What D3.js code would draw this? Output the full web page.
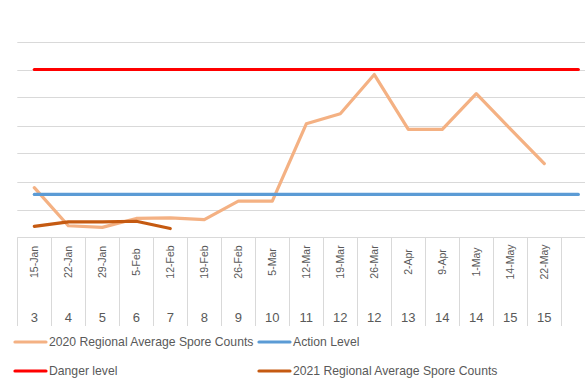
<!DOCTYPE html>
<html lang="en">
<head>
<meta charset="UTF-8">
<title>Regional spore counts</title>
<script src="https://cdn.jsdelivr.net/npm/d3@7"></script>
<style>
  body { margin: 0; padding: 0; overflow: hidden; background: #fff; }
  svg { display: block; }
  text { font-family: "Liberation Sans", Arial, sans-serif; fill: #595959; }
</style>
</head>
<body>
<svg id="chart" width="585" height="390"></svg>
<script>
// categories (last one is an empty slot, as in the original sheet)
var dates = ["15-Jan", "22-Jan", "29-Jan", "5-Feb", "12-Feb", "19-Feb", "26-Feb", "5-Mar",
  "12-Mar", "19-Mar", "26-Mar", "2-Apr", "9-Apr", "1-May", "14-May", "22-May", ""];
var weeks = ["3", "4", "5", "6", "7", "8", "9", "10", "11", "12", "12", "13", "14", "14", "15", "15", ""];

// series values
var spores2020 = [89, 21, 18, 34, 35, 32, 65, 65, 203, 221, 291, 193, 193, 257, 194, 132];
var spores2021 = [20, 28, 28, 29, 16];
var actionLevel = [77, 77, 77, 77, 77, 77, 77, 77, 77, 77, 77, 77, 77, 77, 77, 77, 77];
var dangerLevel = [300, 300, 300, 300, 300, 300, 300, 300, 300, 300, 300, 300, 300, 300, 300, 300, 300];

var series = [
  { name: "2020 Regional Average Spore Counts", values: spores2020, color: "#F4B183" },
  { name: "Action Level", values: actionLevel, color: "#5B9BD5" },
  { name: "Danger level", values: dangerLevel, color: "#FF0000" },
  { name: "2021 Regional Average Spore Counts", values: spores2021, color: "#C55A11" }
];

var svg = d3.select("#chart");

var x = d3.scaleBand().domain(d3.range(dates.length)).range([17.3, 595.3]);
var y = d3.scaleLinear().domain([0, 350]).range([237.5, 41.5]);

// gridlines
svg.append("g")
  .selectAll("line")
  .data(y.ticks(7).filter(d => d > 0))
  .join("line")
  .attr("x1", 17.3).attr("x2", 595.3)
  .attr("y1", d => Math.round(y(d)) + 0.5).attr("y2", d => Math.round(y(d)) + 0.5)
  .attr("stroke", "#d9d9d9").attr("stroke-width", 1);

// category axis box
var axisG = svg.append("g");
axisG.append("line")
  .attr("x1", 17.3).attr("x2", 595.3)
  .attr("y1", 237.5).attr("y2", 237.5)
  .attr("stroke", "#d9d9d9");
axisG.selectAll("line.div")
  .data(d3.range(dates.length + 1))
  .join("line")
  .attr("class", "div")
  .attr("x1", d => Math.round(17.3 + d * x.step()) + 0.5)
  .attr("x2", d => Math.round(17.3 + d * x.step()) + 0.5)
  .attr("y1", 237.5).attr("y2", 326)
  .attr("stroke", "#d9d9d9");

axisG.selectAll("text.date")
  .data(dates)
  .join("text")
  .attr("class", "date")
  .attr("transform", (d, i) => "translate(" + (x(i) + x.bandwidth() / 2 + 0.5) + ",262) rotate(-90)")
  .attr("text-anchor", "middle")
  .attr("dy", "0.35em")
  .attr("font-size", "10.5px")
  .text(d => d);

axisG.selectAll("text.week")
  .data(weeks)
  .join("text")
  .attr("class", "week")
  .attr("x", (d, i) => x(i) + x.bandwidth() / 2)
  .attr("y", 317)
  .attr("text-anchor", "middle")
  .attr("dy", "0.35em")
  .attr("font-size", "13px")
  .text(d => d);

// lines
var line = d3.line()
  .x((d, i) => x(i) + x.bandwidth() / 2)
  .y(d => y(d));

svg.append("g")
  .selectAll("path")
  .data(series)
  .join("path")
  .attr("d", d => line(d.values))
  .attr("fill", "none")
  .attr("stroke", d => d.color)
  .attr("stroke-width", 3.2)
  .attr("stroke-linejoin", "round")
  .attr("stroke-linecap", "round");

// legend, two columns
var legendPos = [[15, 342], [259, 342], [15, 371], [259, 371]];
var legend = svg.append("g")
  .selectAll("g")
  .data(series)
  .join("g")
  .attr("transform", (d, i) => "translate(" + legendPos[i][0] + "," + legendPos[i][1] + ")");
legend.append("line")
  .attr("x1", 0).attr("x2", 31)
  .attr("stroke", d => d.color)
  .attr("stroke-width", 3.2)
  .attr("stroke-linecap", "round");
legend.append("text")
  .attr("x", 34)
  .attr("dy", "0.35em")
  .attr("font-size", "12.2px")
  .text(d => d.name);
</script>
</body>
</html>
